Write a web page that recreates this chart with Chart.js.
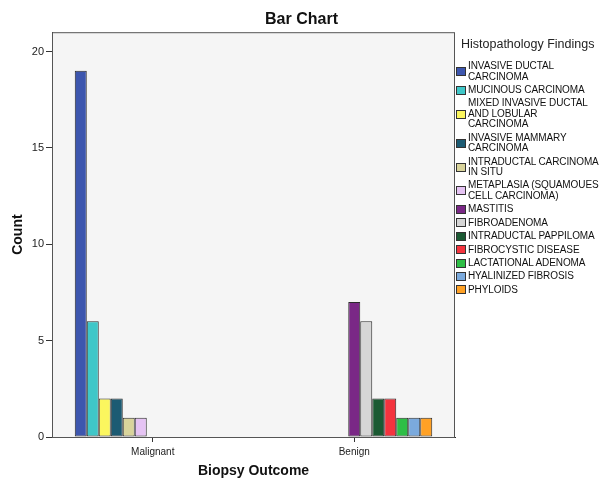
<!DOCTYPE html>
<html>
<head>
<meta charset="utf-8">
<script src="https://cdn.jsdelivr.net/npm/chart.js@4"></script>
<style>
  body { margin: 0; background: #fff; font-family: "Liberation Sans", Arial, sans-serif; }
  #wrap { position: relative; width: 603px; height: 484px; }
  #legend { position: absolute; left: 456px; top: 37px; color: #111; }
  #legend .ttl { font-size: 12.5px; margin: 0 0 10px 5px; color: #222; }
  #legend .item { display: flex; align-items: center; margin-bottom: 2.9px; }
  #legend .sw { width: 8px; height: 7px; border: 1px solid #333; margin-right: 2px; flex: none; }
  #legend .txt { font-size: 10px; line-height: 10.5px; letter-spacing: -0.1px; }
</style>
</head>
<body>
<div id="wrap">
  <canvas id="barChart" width="603" height="484"></canvas>
  <div id="legend"></div>
</div>
<script>
const outcomes = ["Malignant", "Benign"];

const findings = [
  ["INVASIVE DUCTAL", "CARCINOMA"],
  ["MUCINOUS CARCINOMA"],
  ["MIXED INVASIVE DUCTAL", "AND LOBULAR", "CARCINOMA"],
  ["INVASIVE MAMMARY", "CARCINOMA"],
  ["INTRADUCTAL CARCINOMA", "IN SITU"],
  ["METAPLASIA (SQUAMOUES", "CELL CARCINOMA)"],
  ["MASTITIS"],
  ["FIBROADENOMA"],
  ["INTRADUCTAL PAPPILOMA"],
  ["FIBROCYSTIC DISEASE"],
  ["LACTATIONAL ADENOMA"],
  ["HYALINIZED FIBROSIS"],
  ["PHYLOIDS"]
];

// counts per finding: [Malignant, Benign]
const malignantCounts = [19, 6, 2, 2, 1, 1, 0, 0, 0, 0, 0, 0, 0];
const benignCounts    = [0, 0, 0, 0, 0, 0, 7, 6, 2, 2, 1, 1, 1];

const colors = [
  "#3D56AE", "#3FC7C8", "#FBF65E", "#1C5B73", "#D9D49B", "#E5C3F3",
  "#7A2886", "#D6D6D6", "#1B5A33", "#F4333E", "#2EBE46", "#7BAADD", "#FFA125"
];

const yTicks = [0, 5, 10, 15, 20];

const datasets = findings.map((name, i) => ({
  label: name.join(" "),
  data: [malignantCounts[i], benignCounts[i]],
  backgroundColor: colors[i],
  borderColor: "#2b2b2b",
  borderWidth: 1,
  borderSkipped: false,
  barPercentage: 1,
  categoryPercentage: 0.774
}));

// grey plot box with a frame, like the SPSS output
const plotFrame = {
  id: "plotFrame",
  beforeDraw(chart) {
    const { ctx, chartArea: a } = chart;
    ctx.save();
    ctx.fillStyle = "#F5F5F5";
    ctx.fillRect(a.left, a.top, a.right - a.left, a.bottom - a.top);
    ctx.restore();
  },
  afterDraw(chart) {
    const { ctx, chartArea: a } = chart;
    ctx.save();
    ctx.strokeStyle = "#555";
    ctx.lineWidth = 1;
    ctx.strokeRect(a.left + 0.5, a.top + 0.5, a.right - a.left - 1, a.bottom - a.top);
    ctx.restore();
  }
};

const chart = new Chart(document.getElementById("barChart"), {
  type: "bar",
  data: { labels: outcomes, datasets: datasets },
  options: {
    responsive: false,
    animation: false,
    plugins: {
      legend: { display: false },
      tooltip: { enabled: false },
      title: {
        display: true,
        text: "Bar Chart",
        color: "#111",
        font: { family: "Liberation Sans", size: 16, weight: "bold" },
        padding: { top: 10, bottom: 3 }
      }
    },
    scales: {
      x: {
        grid: { display: true, offset: false, drawOnChartArea: false, drawTicks: true, tickLength: 5, color: "#333" },
        border: { display: true, color: "#222" },
        ticks: { color: "#222", font: { family: "Liberation Sans", size: 10 }, padding: 4 },
        title: {
          display: true,
          text: "Biopsy Outcome",
          color: "#111",
          font: { family: "Liberation Sans", size: 14, weight: "bold" },
          padding: { top: 4, bottom: 4 }
        },
        afterFit(s) { s.height = 47; }
      },
      y: {
        min: 0,
        max: 21,
        afterBuildTicks(s) { s.ticks = yTicks.map(v => ({ value: v })); },
        grid: { display: true, drawOnChartArea: false, drawTicks: true, tickLength: 6, color: "#333" },
        border: { display: true, color: "#222" },
        ticks: { color: "#222", font: { family: "Liberation Sans", size: 11 }, padding: 2 },
        title: {
          display: true,
          text: "Count",
          color: "#111",
          font: { family: "Liberation Sans", size: 14, weight: "bold" },
          padding: { top: 10, bottom: 4 }
        },
        afterFit(s) { s.width = 52; }
      },
      legendSpace: {
        position: "right",
        display: true,
        grid: { display: false },
        border: { display: false },
        ticks: { display: false },
        afterFit(s) { s.width = 148; }
      }
    }
  },
  plugins: [plotFrame]
});

// legend built from the same arrays
const legend = document.getElementById("legend");
legend.innerHTML = '<div class="ttl">Histopathology Findings</div>' +
  findings.map((name, i) =>
    '<div class="item"><span class="sw" style="background:' + colors[i] + '"></span>' +
    '<div class="txt">' + name.join("<br>") + '</div></div>'
  ).join("");
</script>
</body>
</html>
